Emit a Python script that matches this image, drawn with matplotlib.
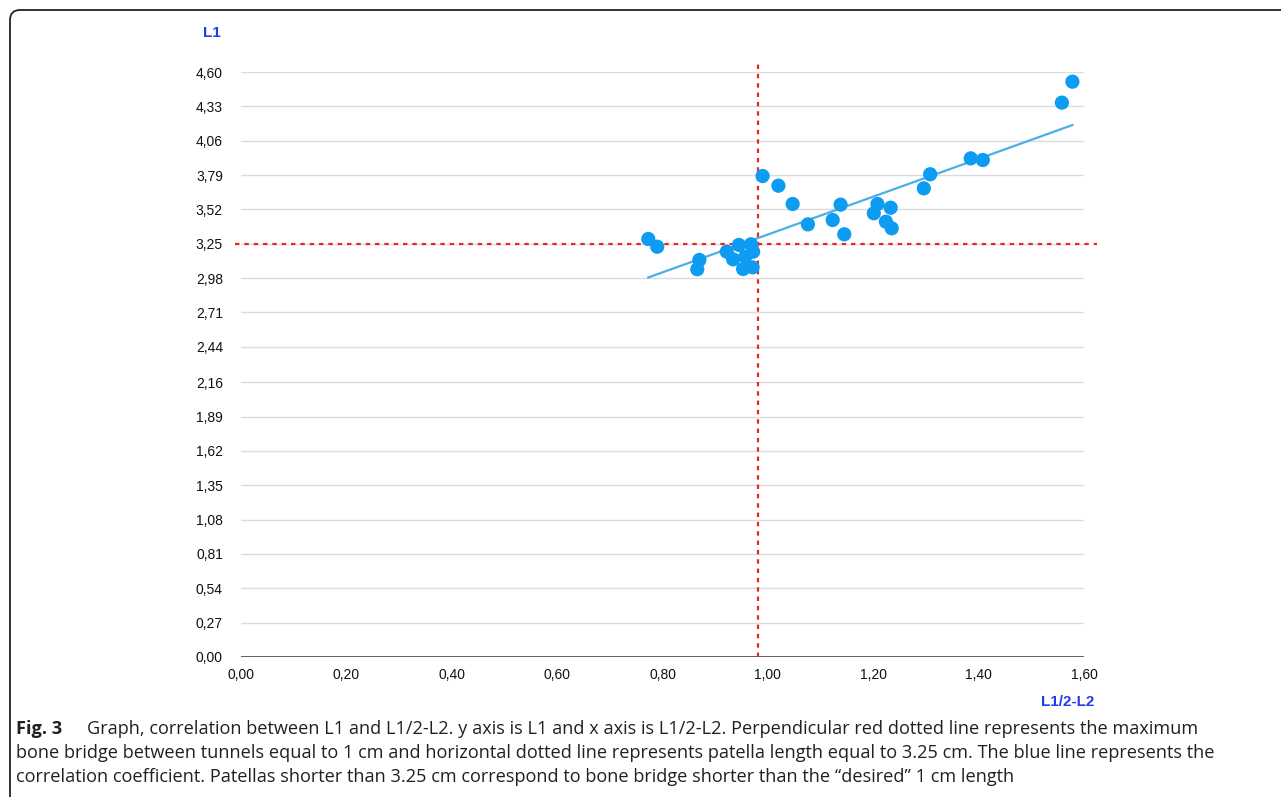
import matplotlib.pyplot as plt
import numpy as np
from matplotlib.path import Path
from matplotlib.patches import PathPatch

# L1/2-L2 (x) and L1 (y)
bridge = [0.773, 0.790, 0.870, 0.866, 0.922, 0.934, 0.945, 0.953, 0.968, 0.972,
          0.971, 0.957, 0.990, 1.020, 1.047, 1.076, 1.123, 1.138, 1.145, 1.201,
          1.208, 1.233, 1.224, 1.235, 1.296, 1.308, 1.385, 1.408, 1.558, 1.578]
patella = [3.287, 3.226, 3.122, 3.049, 3.187, 3.127, 3.240, 3.051, 3.245, 3.187,
           3.064, 3.148, 3.782, 3.706, 3.562, 3.402, 3.436, 3.557, 3.324, 3.489,
           3.562, 3.533, 3.423, 3.371, 3.685, 3.796, 3.921, 3.908, 4.359, 4.524]

y_ticks = [0.00, 0.27, 0.54, 0.81, 1.08, 1.35, 1.62, 1.89, 2.16, 2.44, 2.71,
           2.98, 3.25, 3.52, 3.79, 4.06, 4.33, 4.60]
x_ticks = [0.00, 0.20, 0.40, 0.60, 0.80, 1.00, 1.20, 1.40, 1.60]

bridge_cut = 0.981   # red vertical line
patella_cut = 3.25   # red horizontal line

W, H = 1281, 799
fig = plt.figure(figsize=(W / 100, H / 100), dpi=100)
fig.patch.set_facecolor("white")

left, right, bottom, top = 241, 1084, 657, 72
ax = fig.add_axes([left / W, 1 - bottom / H, (right - left) / W, (bottom - top) / H])
ax.set_xlim(0, 1.6)
ax.set_ylim(0, 4.6)
for s in ax.spines.values():
    s.set_visible(False)

tick_font = ["Liberation Sans", "DejaVu Sans"]
ax.set_yticks(y_ticks)
ax.set_yticklabels([f"{v:.2f}".replace(".", ",") for v in y_ticks], family=tick_font, fontsize=10)
ax.set_xticks(x_ticks)
ax.set_xticklabels([f"{v:.2f}".replace(".", ",") for v in x_ticks], family=tick_font, fontsize=10)
ax.tick_params(axis="both", length=0, colors="#111111")
ax.tick_params(axis="y", pad=13)
ax.tick_params(axis="x", pad=8)

for v in y_ticks[1:]:
    ax.axhline(v, color="#dcdcdc", lw=1.0, zorder=0)
ax.axhline(0, color="#555555", lw=1.3, zorder=1)

# red dotted threshold lines
ax.plot([bridge_cut, bridge_cut], [0, 4.66], color="#e8281e", lw=1.6,
        ls=(0, (2, 2.2)), clip_on=False, zorder=2)
ax.plot([-0.012, 1.625], [patella_cut, patella_cut], color="#e8281e", lw=1.6,
        ls=(0, (2, 2.2)), clip_on=False, zorder=2)

# regression line
xs = np.array(bridge)
k, b = np.polyfit(xs, np.array(patella), 1)
ax.plot([xs.min(), xs.max()], [k * xs.min() + b, k * xs.max() + b],
        color="#4aaee8", lw=1.6, zorder=3)

ax.scatter(bridge, patella, s=105, color="#0e9cf2", edgecolors="none", zorder=4)

fig.text(212 / W, 1 - 33 / H, "L1", color="#1f3df0", fontweight="bold",
         family=tick_font, fontsize=11, ha="center", va="center")
fig.text(1068 / W, 1 - 702 / H, "L1/2-L2", color="#1f3df0", fontweight="bold",
         family=tick_font, fontsize=11, ha="center", va="center")

# rounded frame (top and left only)
r = 10
verts = [(W, H - 10), (10 + r, H - 10), (10, H - 10), (10, H - 10 - r), (10, 2)]
codes = [Path.MOVETO, Path.LINETO, Path.CURVE3, Path.CURVE3, Path.LINETO]
frame = PathPatch(Path([(x / W, y / H) for x, y in verts], codes),
                  transform=fig.transFigure, fill=False, lw=1.3, edgecolor="#222222")
fig.patches.append(frame)

cap_font = ["Open Sans", "DejaVu Sans"]
cap_size = 13.1
fig.text(16 / W, 1 - 729 / H, "Fig. 3", fontweight="bold", family=cap_font,
         fontsize=cap_size, color="#231f20", va="center")
fig.text(87 / W, 1 - 729 / H,
         "Graph, correlation between L1 and L1/2-L2. y axis is L1 and x axis is L1/2-L2. "
         "Perpendicular red dotted line represents the maximum",
         family=cap_font, fontsize=cap_size, color="#231f20", va="center")
fig.text(16 / W, 1 - 753 / H,
         "bone bridge between tunnels equal to 1 cm and horizontal dotted line represents "
         "patella length equal to 3.25 cm. The blue line represents the",
         family=cap_font, fontsize=cap_size, color="#231f20", va="center")
fig.text(16 / W, 1 - 777 / H,
         "correlation coefficient. Patellas shorter than 3.25 cm correspond to bone bridge "
         "shorter than the \u201cdesired\u201d 1 cm length",
         family=cap_font, fontsize=cap_size, color="#231f20", va="center")

fig.savefig("out.png", dpi=100, facecolor="white")
